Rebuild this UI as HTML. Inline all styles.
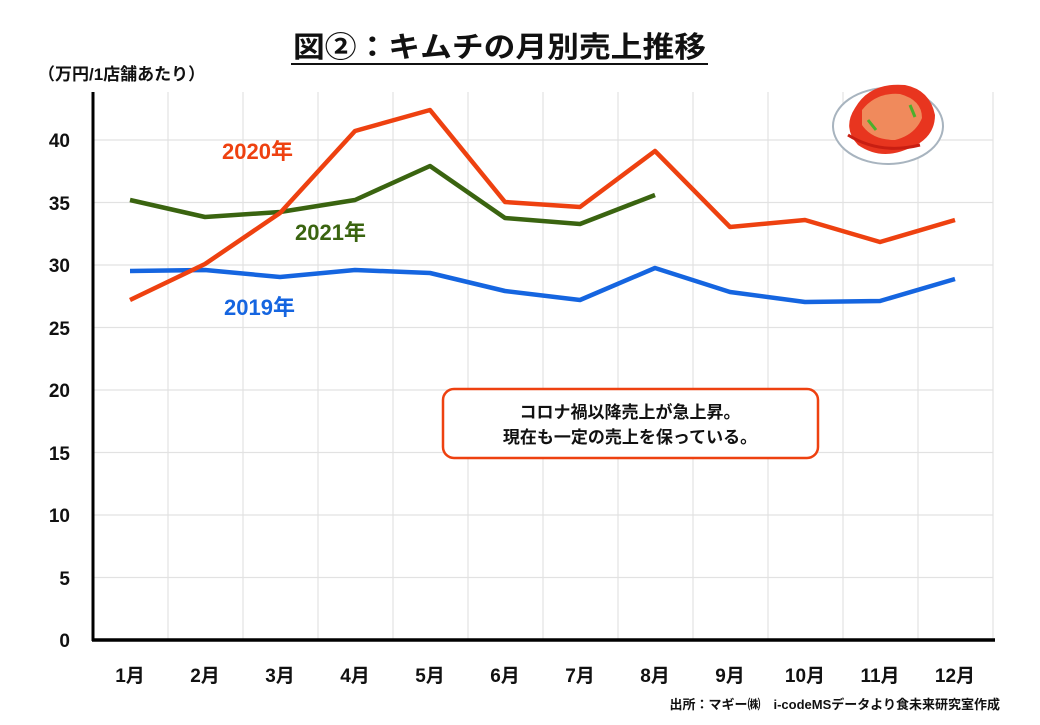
<!DOCTYPE html><html><head><meta charset="utf-8"><style>body{margin:0;background:#fff}svg text{font-family:"Liberation Sans","Noto Sans CJK JP",sans-serif;font-weight:bold}</style></head><body>
<svg width="1040" height="720" viewBox="0 0 1040 720" xmlns="http://www.w3.org/2000/svg">
<rect width="1040" height="720" fill="#fff"/>
<text x="293" y="57" font-size="29" textLength="413" lengthAdjust="spacingAndGlyphs" fill="#111">図②：キムチの月別売上推移</text>
<line x1="291" y1="64" x2="708" y2="64" stroke="#111" stroke-width="2"/>
<text x="38" y="80" font-size="17" fill="#111">（万円/1店舗あたり）</text>
<g stroke="#e2e2e2" stroke-width="1.2">
<line x1="93" y1="577.5" x2="993" y2="577.5"/><line x1="93" y1="515" x2="993" y2="515"/><line x1="93" y1="452.5" x2="993" y2="452.5"/><line x1="93" y1="390" x2="993" y2="390"/><line x1="93" y1="327.5" x2="993" y2="327.5"/><line x1="93" y1="265" x2="993" y2="265"/><line x1="93" y1="202.5" x2="993" y2="202.5"/><line x1="93" y1="140" x2="993" y2="140"/>
<line x1="168" y1="92" x2="168" y2="640"/><line x1="243" y1="92" x2="243" y2="640"/><line x1="318" y1="92" x2="318" y2="640"/><line x1="393" y1="92" x2="393" y2="640"/><line x1="468" y1="92" x2="468" y2="640"/><line x1="543" y1="92" x2="543" y2="640"/><line x1="618" y1="92" x2="618" y2="640"/><line x1="693" y1="92" x2="693" y2="640"/><line x1="768" y1="92" x2="768" y2="640"/><line x1="843" y1="92" x2="843" y2="640"/><line x1="918" y1="92" x2="918" y2="640"/><line x1="993" y1="92" x2="993" y2="640"/>
</g>
<line x1="93" y1="92" x2="93" y2="641" stroke="#000" stroke-width="3"/>
<line x1="92" y1="640" x2="995" y2="640" stroke="#000" stroke-width="3.5"/>
<g font-size="19" fill="#111" text-anchor="end">
<text x="70" y="647">0</text><text x="70" y="585">5</text><text x="70" y="522">10</text><text x="70" y="460">15</text><text x="70" y="397">20</text><text x="70" y="335">25</text><text x="70" y="272">30</text><text x="70" y="210">35</text><text x="70" y="147">40</text>
</g>
<g font-size="19" fill="#111" text-anchor="middle">
<text x="130" y="682">1月</text><text x="205" y="682">2月</text><text x="280" y="682">3月</text><text x="355" y="682">4月</text><text x="430" y="682">5月</text><text x="505" y="682">6月</text><text x="580" y="682">7月</text><text x="655" y="682">8月</text><text x="730" y="682">9月</text><text x="805" y="682">10月</text><text x="880" y="682">11月</text><text x="955" y="682">12月</text>
</g>
<text x="1000" y="709" font-size="13" fill="#111" text-anchor="end">出所：マギー㈱　i-codeMSデータより食未来研究室作成</text>
<polyline fill="none" stroke="#1565e0" stroke-width="4.5" stroke-linejoin="round" points="130,271 205,270 280,277 355,270 430,273 505,291 580,300 655,268 730,292 805,302 880,301 955,279"/>
<polyline fill="none" stroke="#3a6410" stroke-width="4.5" stroke-linejoin="round" points="130,200 205,217 280,212 355,200 430,166 505,218 580,224 655,195"/>
<polyline fill="none" stroke="#ee4110" stroke-width="4.5" stroke-linejoin="round" points="130,300 205,264 280,213 355,131 430,110 505,202 580,207 655,151 730,227 805,220 880,242 955,220"/>
<text x="222" y="159" font-size="22" fill="#ee4110">2020年</text>
<text x="295" y="240" font-size="22" fill="#3a6410">2021年</text>
<text x="224" y="315" font-size="22" fill="#1565e0">2019年</text>
<rect x="443" y="389" width="375" height="69" rx="11" fill="#fff" stroke="#ee4110" stroke-width="2.5"/>
<text x="630" y="418" font-size="17" fill="#111" text-anchor="middle">コロナ禍以降売上が急上昇。</text>
<text x="630" y="443" font-size="17" fill="#111" text-anchor="middle">現在も一定の売上を保っている。</text>
<ellipse cx="888" cy="126" rx="55" ry="38" fill="#fff" stroke="#a8b4bf" stroke-width="2"/>
<path d="M855,108 Q870,82 905,85 Q930,90 935,115 Q935,140 905,150 Q880,160 858,145 Q842,128 855,108Z" fill="#e8351f"/>
<path d="M862,110 Q876,92 900,94 Q922,100 922,118 Q915,135 895,140 Q872,140 862,125Z" fill="#f08a5c"/>
<path d="M848,135 Q880,155 920,145" stroke="#c81e12" stroke-width="3" fill="none"/>
<path d="M868,120 l8,10 M910,105 l5,12" stroke="#4caf2c" stroke-width="3"/>
</svg></body></html>
